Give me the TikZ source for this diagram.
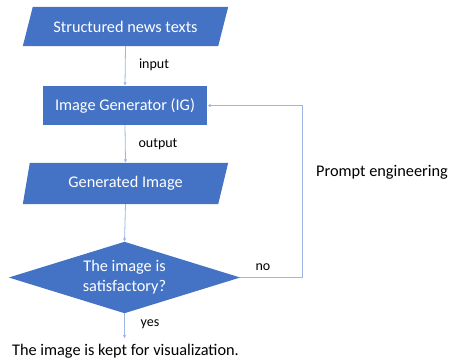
\documentclass[tikz,border=0pt]{standalone}
\usepackage{fontspec}
\setmainfont{Carlito}
\usetikzlibrary{arrows.meta}
\definecolor{boxblue}{HTML}{4472C4}
\definecolor{lineblue}{HTML}{9DB6E4}
\begin{document}
\begin{tikzpicture}[x=1pt,y=-1pt,
  shapetext/.style={text=white,font=\fontsize{16.3}{19}\selectfont,inner sep=0pt},
  lbl/.style={text=black,font=\fontsize{14}{16}\selectfont,inner sep=0pt},
  conn/.style={draw=lineblue,line width=0.8pt,-{Latex[length=3.5pt,width=3.5pt]}},
  boxfill/.style={fill=boxblue}]
\useasboundingbox (0,0) rectangle (450,360);
% top parallelogram
\node[minimum width=205pt,minimum height=39pt,inner sep=0pt] (src) at (125.5,26.5) {};
\fill[boxfill] ([xshift=10pt]src.north west) -- (src.north east) -- ([xshift=-10pt]src.south east) -- (src.south west) -- cycle;
\node[shapetext] (srct) at (src) {Structured news texts};
% IG rectangle
\node[shapetext,fill=boxblue,minimum width=164pt,minimum height=39pt] (ig) at (125,105.5) {Image Generator (IG)};
% generated image parallelogram
\node[minimum width=205pt,minimum height=41pt,inner sep=0pt] (gen) at (125.5,183.5) {};
\fill[boxfill] ([xshift=7pt]gen.north west) -- (gen.north east) -- ([xshift=-10pt]gen.south east) -- (gen.south west) -- cycle;
\node[shapetext] (gent) at (gen) {Generated Image};
% diamond
\node[minimum width=231pt,minimum height=71pt,inner sep=0pt] (dec) at (124.5,277.5) {};
\fill[boxfill] (dec.north) -- (dec.east) -- (dec.south) -- (dec.west) -- cycle;
\node[shapetext,align=center,font=\fontsize{16.3}{20}\selectfont] (dect) at (dec) {The image is\\satisfactory?};
% final text
\node[text=black,font=\fontsize{16.3}{19}\selectfont,inner sep=0pt,anchor=north] (fin) at (125.5,343.5) {The image is kept for visualization.};
\coordinate (yesend) at (124.5,338.5);
% connectors
\draw[conn] (src.south) -- (ig.north);
\draw[conn] (ig.south) -- (gen.north);
\draw[conn] (gen.south) -- (dec.north);
\draw[conn] (dec.south) -- (yesend);
\coordinate (c1) at (302,277.5);
\coordinate (c2) at (302,105.5);
\draw[conn] (dec.east) -- (c1) -- (c2) -- (ig.east);
% labels
\node[lbl] (lin) at (154,65) {input};
\node[lbl] (lout) at (158,144) {output};
\node[lbl] (lyes) at (150,324) {yes};
\node[lbl] (lno) at (263,267) {no};
\node[text=black,font=\fontsize{16.3}{19}\selectfont,inner sep=0pt] (pe) at (382,172) {Prompt engineering};
\end{tikzpicture}
\end{document}
